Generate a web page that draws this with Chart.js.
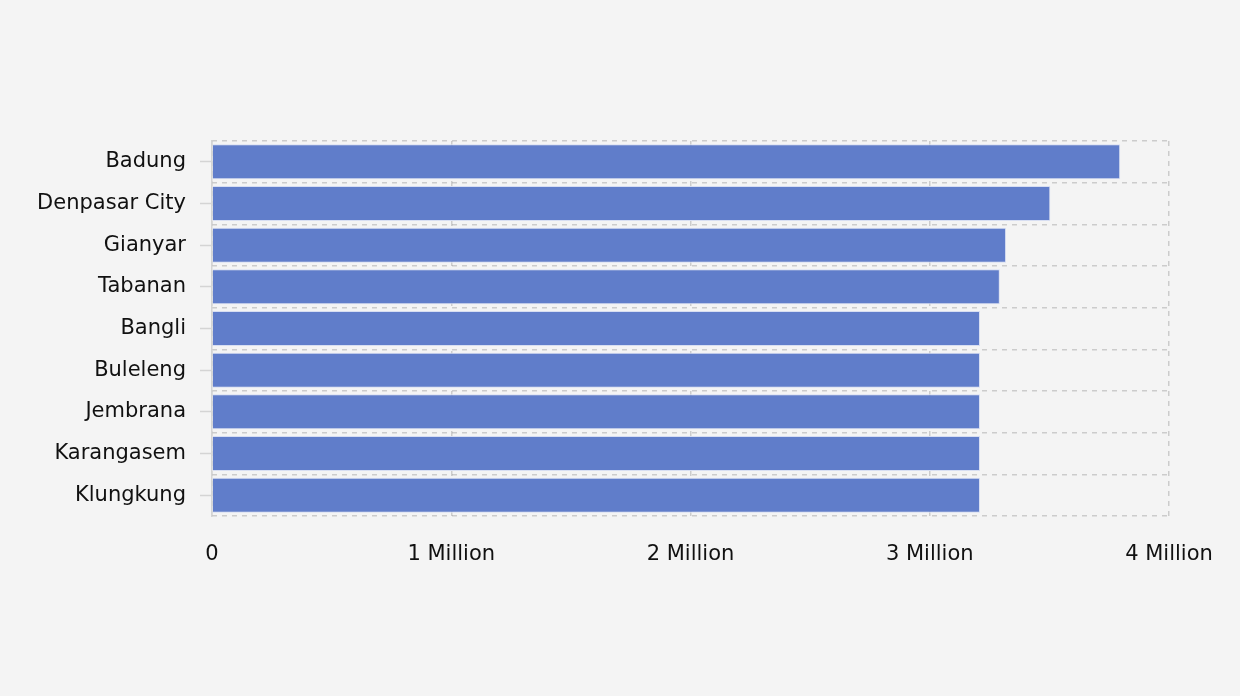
<!DOCTYPE html>
<html>
<head>
<meta charset="utf-8">
<script src="https://cdn.jsdelivr.net/npm/chart.js@4"></script>
<style>
  html, body { margin: 0; padding: 0; background: #f4f4f4; }
</style>
</head>
<body>
<canvas id="chart" width="1240" height="696"></canvas>
<script>
const regions = ["Badung", "Denpasar City", "Gianyar", "Tabanan", "Bangli", "Buleleng", "Jembrana", "Karangasem", "Klungkung"];
const values = [3796000, 3504000, 3319000, 3293000, 3210000, 3210000, 3210000, 3210000, 3210000];
const xTicks = [0, 1000000, 2000000, 3000000, 4000000];

const tickFont = { family: "DejaVu Sans", size: 21 };
const gridColor = 'rgba(0,0,0,0.16)';

new Chart(document.getElementById("chart"), {
    type: 'bar',
    data: {
        labels: regions,
        datasets: [{
            data: values,
            backgroundColor: '#607dca',
            borderColor: 'rgba(215,222,242,1)',
            borderWidth: 1,
            categoryPercentage: 1,
            barPercentage: 0.84
        }]
    },
    options: {
        indexAxis: 'y',
        responsive: false,
        animation: false,
        devicePixelRatio: 1,
        layout: { padding: { top: 141, right: 71, bottom: 100, left: 0 } },
        plugins: { legend: { display: false }, tooltip: { enabled: false } },
        scales: {
            x: {
                min: 0,
                max: 4000000,
                z: 1,
                afterBuildTicks: scale => { scale.ticks = xTicks.map(v => ({ value: v })); },
                afterFit: scale => { scale.height = 80; },
                border: { display: false, dash: [5, 5] },
                grid: { color: gridColor, lineWidth: 1.5, drawTicks: false },
                ticks: {
                    padding: 26,
                    color: '#111',
                    font: tickFont,
                    maxRotation: 0,
                    callback: v => v === 0 ? '0' : (v / 1000000) + ' Million'
                }
            },
            y: {
                position: 'left',
                afterFit: scale => { scale.width = 212; },
                border: { display: true, color: '#d4d4d4', width: 1.5 },
                grid: { offset: false, drawOnChartArea: false, drawTicks: true, tickLength: 12, color: '#d4d4d4', tickWidth: 1.5 },
                ticks: { padding: 14, color: '#111', font: tickFont }
            },
            y2: {
                position: 'right',
                type: 'category',
                labels: regions,
                offset: true,
                afterFit: scale => { scale.width = 0; },
                border: { display: false, dash: [5, 5] },
                grid: { offset: true, drawTicks: false, color: gridColor, lineWidth: 1.5 },
                ticks: { display: false }
            }
        }
    }
});
</script>
</body>
</html>
